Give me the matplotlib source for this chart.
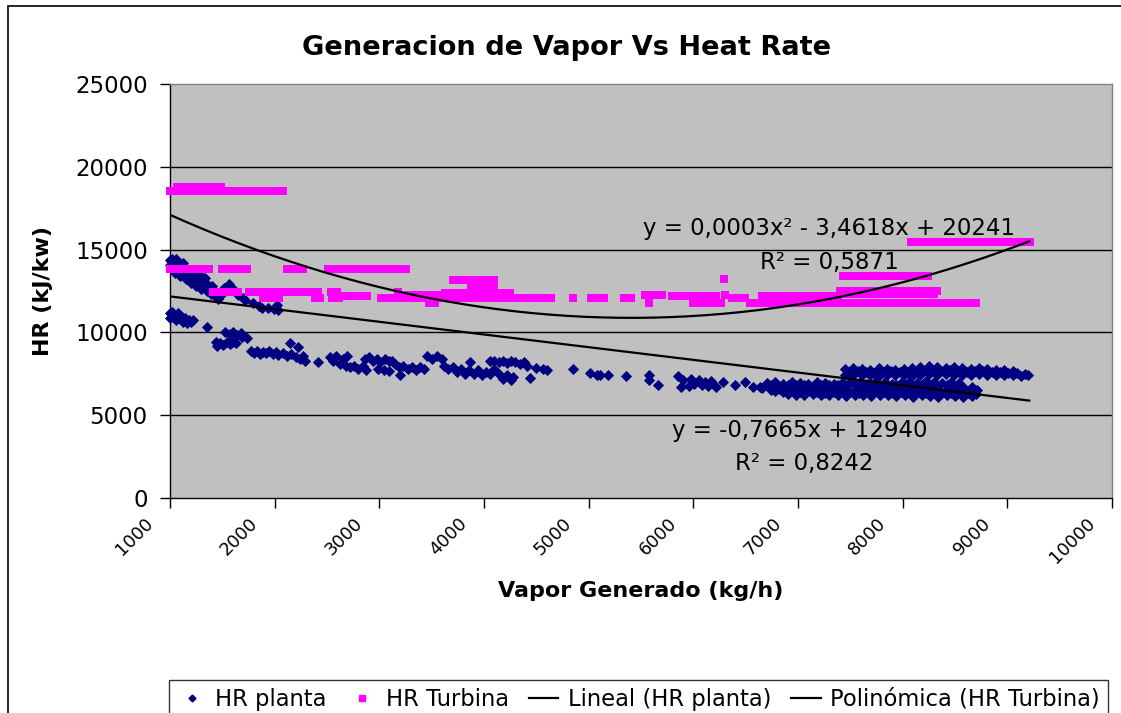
import numpy as np
import matplotlib
matplotlib.use("Agg")
import matplotlib.pyplot as plt
from matplotlib.patches import Rectangle
from matplotlib.lines import Line2D
from matplotlib.transforms import ScaledTranslation

# ---------------- data ----------------
# HR planta: (vapor generado kg/h, HR kJ/kw), grouped by cluster
planta_a = [(1000, 14400), (1000, 14100), (1020, 14450), (1030, 14250), (1040, 13900), (1060, 14200),
            (1080, 13800), (1100, 14050), (1110, 13600), (1130, 13900), (1150, 13500), (1170, 13750),
            (1190, 13300), (1210, 13550), (1230, 13100), (1250, 13350), (1270, 12900), (1290, 13100),
            (1310, 12700), (1330, 12950), (1350, 12500), (1370, 12700), (1390, 12300), (1420, 12450),
            (1440, 12150), (1460, 12000), (1490, 12250), (1520, 12700), (1560, 12950), (1590, 12700),
            (1620, 12500), (1650, 12250), (1700, 12100), (1720, 11950), (1790, 11800), (1850, 11600),
            (1880, 11500), (1940, 11450), (1990, 11400), (2020, 11650), (2030, 11350),
            (1050, 13600), (1100, 13400), (1150, 13200), (1200, 13000), (1250, 12800), (1300, 12600),
            (1280, 13500), (1330, 13300), (1350, 12900), (1400, 12800), (1060, 14450), (1120, 14200)]
planta_b = [(1000, 11150), (1000, 10850), (1020, 11250), (1030, 10950), (1050, 11050), (1060, 10750),
            (1080, 11150), (1090, 10850), (1110, 10950), (1120, 10650), (1140, 10850), (1160, 10550),
            (1180, 10750), (1200, 10650), (1220, 10750), (1350, 10330)]
planta_c = [(1530, 10000), (1570, 9900), (1600, 10050), (1640, 9850), (1680, 9950), (1690, 9700),
            (1440, 9400), (1450, 9200), (1480, 9350), (1510, 9250), (1540, 9400), (1570, 9300),
            (1600, 9450), (1630, 9350), (1735, 9660)]
planta_d = [(1770, 8900), (1800, 8750), (1830, 8850), (1860, 8700), (1890, 8800), (1920, 8750),
            (1950, 8850), (1980, 8700), (2010, 8800), (2030, 8650), (2080, 8750), (2120, 8600),
            (2160, 8700), (2150, 9360), (2200, 8500), (2220, 9120), (2240, 8400), (2270, 8600),
            (2290, 8300), (2410, 8210)]
planta_e = [(2530, 8500), (2560, 8300), (2590, 8600), (2620, 8100), (2650, 8400), (2680, 8000),
            (2690, 8600), (2720, 7900), (2760, 8000), (2800, 7800), (2840, 8000), (2870, 7700),
            (2860, 8400), (2900, 8500), (2940, 8300), (2980, 8400), (3010, 8200), (3050, 8400),
            (3090, 8300), (3120, 8250), (2990, 7800), (3040, 7700), (3090, 7650), (3200, 7430),
            (3150, 8100), (3190, 7900), (3230, 8000), (3270, 7800), (3310, 7900), (3350, 7700),
            (3390, 7900), (3430, 7800), (3460, 8550), (3500, 8400), (3550, 8600), (3600, 8400),
            (3620, 8000), (3660, 7800), (3700, 7900), (3740, 7600), (3780, 7800), (3820, 7500),
            (3860, 7700), (3870, 8200), (3900, 7500), (3940, 7700), (3980, 7400), (4020, 7600),
            (4060, 7500), (4060, 8250), (4100, 8300), (4140, 8200), (4180, 8300), (4220, 8150),
            (4260, 8250), (4300, 8200), (4340, 8100), (4380, 8200), (4410, 8000), (4100, 7800),
            (4140, 7500), (4180, 7200), (4220, 7400), (4260, 7100), (4280, 7300), (4440, 7250)]
planta_f = [(4500, 7850), (4560, 7800), (4600, 7730), (4850, 7790), (5010, 7550), (5080, 7450),
            (5110, 7430), (5180, 7430), (5360, 7370), (5580, 7430), (5580, 7130), (5660, 6820),
            (5850, 7370), (5900, 7130), (5880, 6700), (5960, 6750), (5980, 7200), (6010, 6900),
            (6050, 7100), (6080, 6800), (6110, 7000), (6140, 6750), (6170, 7050), (6200, 6850),
            (6220, 6700), (6280, 7000), (6400, 6820), (6490, 7000), (6570, 6700), (6640, 6700)]
# dense bands at high load (rows across the band)
planta_low1_x = [6700, 6780, 6860, 6940, 7020, 7100, 7180, 7260, 7340, 7420, 7500, 7580, 7660, 7740,
                 7820, 7900, 7980, 8060, 8140, 8220, 8300, 8380, 8460, 8540]
planta_low1_hr = [6950, 7000, 6900, 7000, 6950, 6900, 7000, 6950, 6900, 6950, 7000, 6950, 6900, 7000,
                  6950, 6900, 6950, 7000, 6950, 7050, 7000, 6950, 7000, 6950]
planta_low4_x = [6740, 6820, 6900, 6980, 7060, 7140, 7220, 7300, 7380, 7460, 7540, 7620, 7700, 7780,
                 7860, 7940, 8020, 8100, 8180, 8260, 8340, 8420, 8500, 8580, 8660]
planta_low4_hr = [6800, 6750, 6800, 6850, 6800, 6750, 6800, 6850, 6800, 6750, 6800, 6850, 6800, 6750,
                  6800, 6850, 6800, 6750, 6800, 6800, 6750, 6800, 6750, 6700, 6700]
planta_low2_x = [6660, 6740, 6820, 6900, 6980, 7060, 7140, 7220, 7300, 7380, 7460, 7540, 7620, 7700,
                 7780, 7860, 7940, 8020, 8100, 8180, 8260, 8340, 8420, 8500, 8580, 8660, 8710]
planta_low2_hr = [6650, 6550, 6600, 6700, 6550, 6600, 6650, 6550, 6600, 6700, 6600, 6550, 6650, 6600,
                  6550, 6650, 6600, 6550, 6600, 6650, 6550, 6600, 6550, 6600, 6500, 6550, 6500]
planta_low5_x = [6780, 6860, 6940, 7020, 7100, 7180, 7260, 7340, 7420, 7500, 7580, 7660, 7740, 7820,
                 7900, 7980, 8060, 8140, 8220, 8300, 8380, 8460, 8540, 8620, 8700]
planta_low5_hr = [6450, 6400, 6450, 6400, 6450, 6400, 6350, 6400, 6450, 6400, 6350, 6400, 6450, 6400,
                  6350, 6400, 6350, 6400, 6350, 6400, 6350, 6350, 6400, 6350, 6300]
planta_low3_x = [6900, 6980, 7060, 7140, 7220, 7300, 7380, 7460, 7540, 7620, 7700, 7780, 7860, 7940,
                 8020, 8100, 8180, 8260, 8340, 8420, 8500, 8580, 8660]
planta_low3_hr = [6300, 6250, 6200, 6300, 6250, 6200, 6250, 6150, 6200, 6250, 6150, 6200, 6250, 6150,
                  6200, 6100, 6200, 6150, 6100, 6200, 6150, 6100, 6150]
planta_up1_x = [7450, 7530, 7610, 7690, 7770, 7850, 7930, 8010, 8090, 8170, 8250, 8330, 8410, 8490,
                8570, 8650, 8730, 8810, 8890, 8970, 9050]
planta_up1_hr = [7800, 7850, 7800, 7750, 7850, 7800, 7750, 7800, 7850, 7900, 7950, 7900, 7850, 7900,
                 7850, 7800, 7850, 7800, 7750, 7700, 7650]
planta_up3_x = [7490, 7570, 7650, 7730, 7810, 7890, 7970, 8050, 8130, 8210, 8290, 8370, 8450, 8530,
                8610, 8690, 8770, 8850, 8930, 9010, 9090, 9170]
planta_up3_hr = [7600, 7650, 7600, 7550, 7600, 7650, 7600, 7550, 7650, 7700, 7700, 7650, 7700, 7650,
                 7600, 7650, 7650, 7600, 7600, 7550, 7550, 7500]
planta_up2_x = [7450, 7530, 7610, 7690, 7770, 7850, 7930, 8010, 8090, 8170, 8250, 8330, 8410, 8490,
                8570, 8650, 8730, 8810, 8890, 8970, 9050, 9130, 9200]
planta_up2_hr = [7450, 7400, 7450, 7400, 7350, 7400, 7450, 7400, 7350, 7450, 7500, 7450, 7500, 7450,
                 7400, 7450, 7500, 7450, 7400, 7450, 7400, 7350, 7400]

# HR Turbina: rows of points sharing the same HR (kJ/kw) -> vapor kg/h values
turb_18750 = [1070, 1130, 1190, 1250, 1310, 1370, 1430, 1490]
turb_18550 = [1000, 1060, 1120, 1180, 1240, 1300, 1360, 1420, 1480, 1540, 1600, 1660, 1720, 1780,
              1840, 1900, 1960, 2020, 2080]
turb_15450 = [8080, 8160, 8220, 8280, 8340, 8400, 8460, 8520, 8580, 8640, 8700, 8760, 8820, 8880,
              8940, 9000, 9060, 9120, 9180, 9220]
turb_13800 = [1000, 1060, 1120, 1180, 1240, 1320, 1370, 1500, 1560, 1620, 1680, 1740, 2120, 2180,
              2240, 2270, 2510, 2570, 2630, 2690, 2750, 2810, 2870, 2930, 2990, 3050, 3110, 3190, 3250]
turb_13380 = [7430, 7490, 7550, 7610, 7670, 7730, 7790, 7850, 7910, 7970, 8030, 8090, 8150, 8210, 8240]
turb_13200 = [6290]
turb_13150 = [3700, 3760, 3820, 3880, 3940, 4000, 4060, 4100]
turb_12750 = [3880, 3940, 4000, 4060, 4100]
turb_12470 = [7400, 7460, 7520, 7580, 7640, 7700, 7760, 7820, 7880, 7940, 8000, 8060, 8120, 8180,
              8240, 8300, 8330]
turb_12450 = [1410, 1470, 1530, 1590, 1650, 1750, 1810, 1870, 1930, 1990, 2050, 2110, 2170, 2230,
              2290, 2370, 2410, 2540, 2600, 3180]
turb_12350 = [3630, 3690, 3750, 3810, 3870, 3930, 3990, 4050, 4110, 4170, 4230, 4250]
turb_12290 = [7400, 7460, 7520, 7580, 7640, 7700, 7760, 7820, 7880, 7940, 8000, 8060, 8120, 8180,
              8240, 8300]
turb_12250 = [3270, 3330, 3390, 3450, 3510, 3570, 5540, 5600, 5660, 5700, 6300]
turb_12200 = [2650, 2710, 2770, 2830, 2880, 5800, 5860, 5920, 5980, 6040, 6100, 6160, 6220,
              6660, 6720, 6780, 6840, 6900, 6960, 7020, 7080, 7140, 7200, 7260, 7320, 7380]
turb_12050 = [1890, 1950, 2010, 2040, 2390, 2430, 2550, 2610, 3020, 3080, 3140, 3200,
              3270, 3330, 3390, 3450, 3510, 3570, 3630, 3690, 3750, 3810, 3870, 3930, 3990, 4050,
              4110, 4170, 4230, 4290, 4350, 4410, 4470, 4530, 4580, 4640, 4850, 5020, 5080, 5150,
              5340, 5400, 6370, 6420, 6490]
turb_11750 = [3470, 3530, 5580, 6000, 6060, 6120, 6190, 6260, 6540, 6600, 6650,
              6700, 6760, 6820, 6880, 6940, 7000, 7060, 7120, 7180, 7240, 7300, 7360, 7420, 7480,
              7540, 7600, 7660, 7720, 7780, 7840, 7900, 7960, 8020, 8080, 8140, 8200, 8260, 8320,
              8380, 8440, 8500, 8560, 8620, 8700]

# Excel trendlines (linear on HR planta, 2nd order polynomial on HR Turbina)
lineal_coef = [-0.7665, 12940]
polin_coef = [0.00032, -3.4618, 20241]   # label shows 0,0003 (rounded)
trend_range = [1000, 9210]

x_ticks = [1000, 2000, 3000, 4000, 5000, 6000, 7000, 8000, 9000, 10000]
y_ticks = [0, 5000, 10000, 15000, 20000, 25000]

# ---------------- assemble ----------------
planta_pts = np.array(planta_a + planta_b + planta_c + planta_d + planta_e + planta_f, dtype=float)
planta_x = np.concatenate([planta_pts[:, 0], planta_low1_x, planta_low4_x, planta_low2_x,
                           planta_low5_x, planta_low3_x, planta_up1_x, planta_up3_x, planta_up2_x])
planta_y = np.concatenate([planta_pts[:, 1], planta_low1_hr, planta_low4_hr, planta_low2_hr,
                           planta_low5_hr, planta_low3_hr, planta_up1_hr, planta_up3_hr, planta_up2_hr])

turb_rows = {18750: turb_18750, 18550: turb_18550, 15450: turb_15450, 13800: turb_13800,
             13380: turb_13380, 13200: turb_13200, 13150: turb_13150, 12750: turb_12750,
             12470: turb_12470, 12450: turb_12450, 12350: turb_12350, 12290: turb_12290,
             12250: turb_12250, 12200: turb_12200, 12050: turb_12050, 11750: turb_11750}
turb_x = np.concatenate([np.array(v, dtype=float) for v in turb_rows.values()])
turb_y = np.concatenate([np.full(len(v), float(k)) for k, v in turb_rows.items()])

W, H = 1121, 713
fig = plt.figure(figsize=(W / 100, H / 100), dpi=100)
fig.patch.set_facecolor("white")

# outer chart-area frame (runs off the right and bottom edges like the original)
fig.patches.append(Rectangle((8 / W, -0.2), 1.2, 1.2 - 6 / H, transform=fig.transFigure,
                             fill=False, edgecolor="black", linewidth=1.2))

ax = fig.add_axes([170 / W, 1 - 498 / H, (1112 - 170) / W, (498 - 84) / H])
ax.set_facecolor("#C0C0C0")

ax.set_xlim(1000, 10000)
ax.set_ylim(0, 25000)
ax.set_xticks(x_ticks)
ax.set_yticks(y_ticks)
ax.set_xticklabels([str(t) for t in x_ticks], rotation=45, ha="right", va="top", fontsize=12.8)
ax.tick_params(axis="both", direction="out", length=7, width=1, colors="black")
ax.tick_params(axis="y", pad=9, labelsize=16.5)
ax.tick_params(axis="x", pad=5)
shift = ScaledTranslation(-13 / 100, 0, fig.dpi_scale_trans)
for lab in ax.get_xticklabels():
    lab.set_transform(lab.get_transform() + shift)

for g in y_ticks[1:-1]:
    ax.axhline(g, color="black", linewidth=1.0, zorder=1)

for side in ["top", "right"]:
    ax.spines[side].set_color("#808080")
    ax.spines[side].set_linewidth(1.0)
for side in ["left", "bottom"]:
    ax.spines[side].set_color("black")
    ax.spines[side].set_linewidth(1.0)

ax.plot(planta_x, planta_y, linestyle="none", marker="D", markersize=4.8, color="#000080",
        markeredgewidth=0.6, clip_on=False, zorder=3)
ax.plot(turb_x, turb_y, linestyle="none", marker="s", markersize=5.2, color="#FF00FF",
        markeredgewidth=0, clip_on=False, zorder=3)

xx = np.linspace(trend_range[0], trend_range[1], 200)
ax.plot(xx, np.polyval(lineal_coef, xx), color="black", linewidth=1.6, zorder=4)
ax.plot(xx, np.polyval(polin_coef, xx), color="black", linewidth=1.6, zorder=4)

# trendline labels
ax.text(7294, 16250, "y = 0,0003x² - 3,4618x + 20241", fontsize=16.5, ha="center", va="center", zorder=5)
ax.text(7300, 14250, "R² = 0,5871", fontsize=16.5, ha="center", va="center", zorder=5)
ax.text(7017, 4050, "y = -0,7665x + 12940", fontsize=16.5, ha="center", va="center", zorder=5)
ax.text(7055, 2110, "R² = 0,8242", fontsize=16.5, ha="center", va="center", zorder=5)

ax.set_ylabel("HR (kJ/kw)", fontsize=16, fontweight="bold")
ax.yaxis.set_label_coords((53 - 170) / (1112 - 170), 0.5)
ax.set_xlabel("Vapor Generado (kg/h)", fontsize=16, fontweight="bold")
ax.xaxis.set_label_coords(0.5, (498 - 581) / (498 - 84))

fig.text(567 / W, 1 - 48 / H, "Generacion de Vapor Vs Heat Rate", fontsize=19.6,
         fontweight="bold", ha="center", va="center")

handles = [
    Line2D([], [], linestyle="none", marker="D", markersize=3.5, color="#000080"),
    Line2D([], [], linestyle="none", marker="s", markersize=4.5, color="#FF00FF"),
    Line2D([], [], color="black", linewidth=1.6),
    Line2D([], [], color="black", linewidth=1.6),
]
labels = ["HR planta", "HR Turbina", "Lineal (HR planta)", "Polinómica (HR Turbina)"]
leg = fig.legend(handles, labels, loc="upper left", bbox_to_anchor=(169 / W, 1 - 680 / H),
                 ncol=4, frameon=True, fancybox=False, edgecolor="black", fontsize=16.3,
                 handlelength=1.3, handletextpad=0.4, columnspacing=0.9, borderpad=0.35,
                 borderaxespad=0)
leg.get_frame().set_linewidth(1.0)

fig.savefig("out.png", dpi=100, facecolor="white")
